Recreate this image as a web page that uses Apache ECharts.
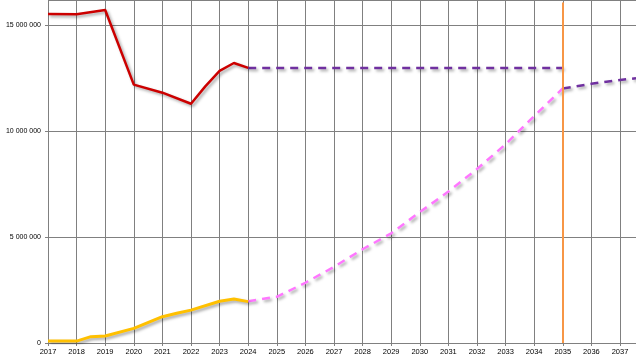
<!DOCTYPE html>
<html>
<head>
<meta charset="utf-8">
<script src="https://cdn.jsdelivr.net/npm/echarts@6/dist/echarts.min.js"></script>
<style>html,body{margin:0;padding:0;background:#fff}#c{width:636px;height:362px}</style>
</head>
<body>
<div id="c"></div>
<script>
// Historical totals (red)
var redYears = [2017, 2018, 2019, 2020, 2021, 2022, 2022.5, 2023, 2023.5, 2024];
var redValues = [15510000, 15500000, 15700000, 12180000, 11800000, 11280000, 12100000, 12830000, 13200000, 12970000];
// Historical (yellow)
var yellowYears = [2017, 2018, 2018.5, 2019, 2020, 2021, 2021.5, 2022, 2023, 2023.5, 2024];
var yellowValues = [90000, 90000, 300000, 330000, 690000, 1240000, 1400000, 1550000, 1970000, 2070000, 1950000];
// Projection (magenta dashed)
var pinkYears = [2024, 2025, 2026, 2027, 2028, 2029, 2030, 2031, 2032, 2033, 2034, 2035];
var pinkValues = [1970000, 2180000, 2840000, 3590000, 4420000, 5170000, 6170000, 7140000, 8200000, 9370000, 10700000, 12000000];
// Projection (purple dashed)
var purpleYears1 = [2024, 2035];
var purpleValues1 = [12970000, 12970000];
var purpleYears2 = [2035, 2036, 2037, 2037.56];
var purpleValues2 = [12000000, 12220000, 12400000, 12480000];
var markerYear = 2035;

function pairs(xs, ys) { return xs.map(function (x, i) { return [x, ys[i]]; }); }
function fmt(v) { return String(Math.round(v)).replace(/\B(?=(\d{3})+(?!\d))/g, ' '); }

var shadow = { shadowColor: 'rgba(0,0,0,0.35)', shadowBlur: 3, shadowOffsetX: 2, shadowOffsetY: 2 };
function lineStyle(color, w, dashed) {
  var s = Object.assign({ color: color, width: w }, shadow);
  if (dashed) { s.type = [8, 6]; }
  return s;
}

var chart = echarts.init(document.getElementById('c'), null, { renderer: 'canvas' });
chart.setOption({
  animation: false,
  grid: { left: 48, right: 0, top: -1, bottom: 19, containLabel: false },
  xAxis: {
    type: 'value', min: 2017, max: 2037.56, interval: 1,
    axisLine: { show: true, lineStyle: { color: '#808080', width: 1 } },
    axisTick: { show: true, length: 3, lineStyle: { color: '#808080' } },
    axisLabel: { showMaxLabel: false, margin: 5, color: '#000', fontFamily: 'Liberation Sans', fontSize: 7.5,
      formatter: function (v) { return Math.abs(v - Math.round(v)) < 1e-6 ? String(Math.round(v)) : ''; } },
    splitLine: { show: true, lineStyle: { color: '#808080', width: 1 } }
  },
  yAxis: {
    type: 'value', min: 0, max: 16170000, interval: 5000000,
    axisLine: { show: false },
    axisTick: { show: true, length: 3, lineStyle: { color: '#808080' } },
    axisLabel: { showMaxLabel: false, margin: 7, color: '#000', fontFamily: 'Liberation Sans', fontSize: 7,
      formatter: function (v) { return v % 5000000 === 0 ? fmt(v) : ''; } },
    splitLine: { show: true, lineStyle: { color: '#808080', width: 1 } }
  },
  series: [
    { type: 'line', data: pairs(pinkYears, pinkValues), symbol: 'none', lineStyle: lineStyle('#ff77ff', 2.5, true), z: 3 },
    { type: 'line', data: pairs(purpleYears1, purpleValues1), symbol: 'none', lineStyle: lineStyle('#7030a0', 2.5, true), z: 3 },
    { type: 'line', data: pairs(purpleYears2, purpleValues2), symbol: 'none', lineStyle: lineStyle('#7030a0', 2.5, true), z: 3 },
    { type: 'line', data: pairs(yellowYears, yellowValues), symbol: 'none', lineStyle: lineStyle('#ffc000', 3, false), z: 4 },
    { type: 'line', data: pairs(redYears, redValues), symbol: 'none', lineStyle: lineStyle('#cc0000', 2.5, false), z: 4,
      markLine: { silent: true, symbol: 'none', label: { show: false },
        lineStyle: { color: '#f79646', width: 2, type: 'solid' },
        data: [[{ coord: [markerYear, 0] }, { coord: [markerYear, 16050000] }]] } }
  ]
});
</script>
</body>
</html>
